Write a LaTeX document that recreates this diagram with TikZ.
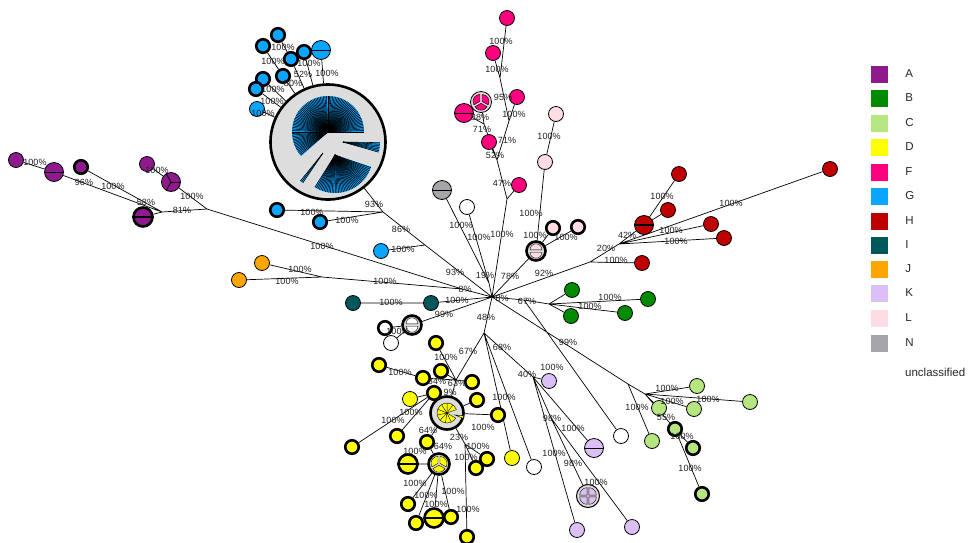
\documentclass[tikz,border=0pt]{standalone}
\usepackage{fontspec}
\setmainfont{Liberation Sans}
\usetikzlibrary{positioning}
\usetikzlibrary{backgrounds}

\definecolor{cA}{HTML}{8E1A8E}
\definecolor{cB}{HTML}{008B00}
\definecolor{cC}{HTML}{B5E680}
\definecolor{cD}{HTML}{FFFF00}
\definecolor{cF}{HTML}{FF007F}
\definecolor{cG}{HTML}{0AA5FF}
\definecolor{cH}{HTML}{BF0000}
\definecolor{cI}{HTML}{00585A}
\definecolor{cJ}{HTML}{FFA500}
\definecolor{cK}{HTML}{DCBFF5}
\definecolor{cL}{HTML}{FFDDE3}
\definecolor{cN}{HTML}{A5A6AA}
\definecolor{cbox}{HTML}{DDDDDD}

\newcommand{\pctfont}{\fontsize{9}{9}\selectfont}
% one piece of a split node: node, radius, start, end, colour
\newcommand{\slice}[5]{\filldraw[fill=#5,line width=0.4pt] ([shift={({(#3+#4)/2}:1.2pt)}]#1.center) -- ++(#3:#2) arc[start angle=#3,end angle=#4,radius=#2] -- cycle;}
% blue fan inside the big G node
\newcommand{\fan}[4]{%
  \fill[cG] (#1) -- ++(#2:#4) arc[start angle=#2,end angle=#3,radius=#4] -- cycle;
  \pgfmathsetmacro{\fannext}{#2+2.5}
  \foreach \a in {#2,\fannext,...,#3} \draw[line width=0.55pt] (#1) -- ++(\a:#4);}

\begin{document}
\begin{tikzpicture}[x=1pt,y=-1pt,
  leaf/.style={circle,draw,line width=0.8pt,minimum size=15pt,inner sep=0pt,fill=#1},
  leaf/.default=white,
  ring/.style={line width=2.6pt,minimum size=13.5pt},
  big/.style={minimum size=19pt},
  link/.style={line width=0.7pt},
  pct/.style={font=\pctfont,text=black!88,inner sep=0pt},
  legsq/.style={minimum size=17pt,inner sep=0pt},
  legtxt/.style={font=\fontsize{11.5}{12}\selectfont,text=black!85,inner sep=0pt}]
\useasboundingbox (0,0) rectangle (975,542);

% A
\node[leaf=cA]          (A1) at (16,160)  {};
\node[leaf=cA,big]      (A2) at (54,172)  {};
\node[leaf=cA,ring]     (A3) at (81,167)  {};
\node[leaf=cA]          (A4) at (147,164) {};
\node[leaf=cA,big]      (A5) at (171,182) {};
\node[leaf=cA,ring,big] (A6) at (143,217) {};
\draw[line width=0.8pt] (A2.west) -- (A2.east);
\draw[line width=2pt] (A6.west) -- (A6.east);
\foreach \a in {0,120,240} \draw[line width=0.8pt] (A5.center) -- (A5.\a);

% G
\node[leaf=cbox,ring,minimum size=115pt] (Gbig) at (328,142) {};
\coordinate (gfana) at (328,132);
\coordinate (gfanb) at (343,142);
\coordinate (gfanc) at (335,155);
\coordinate (gfand) at (323,153);
\fan{gfana}{0}{222}{36pt}
\fan{gfanb}{-16}{-1}{37pt}
\fan{gfanc}{-122}{-18}{38pt}
\fan{gfand}{231}{236}{36pt}
\node[leaf=cG,ring] (G1)  at (278,35)  {};
\node[leaf=cG,ring] (G2)  at (263,46)  {};
\node[leaf=cG,ring] (G3)  at (291,59)  {};
\node[leaf=cG,ring] (G4)  at (304,52)  {};
\node[leaf=cG,big]  (G5)  at (321,50)  {};
\node[leaf=cG,ring] (G6)  at (263,79)  {};
\node[leaf=cG,ring] (G7)  at (283,76)  {};
\node[leaf=cG,ring] (G8)  at (256,89)  {};
\node[leaf=cG]      (G9)  at (257,109) {};
\node[leaf=cG,ring] (G10) at (277,210) {};
\node[leaf=cG,ring] (G11) at (320,222) {};
\node[leaf=cG]      (G12) at (381,251) {};
\draw[line width=0.8pt] (G5.west) -- (G5.east);

% J, I, unclassified
\node[leaf=cJ] (J1) at (262,263) {};
\node[leaf=cJ] (J2) at (239,280) {};
\node[leaf=cI] (I1) at (353,303) {};
\node[leaf=cI] (I2) at (431,303) {};
\node[leaf,ring] (U1) at (385,328) {};
\node[leaf]      (U2) at (391,343) {};
\node[leaf=cbox,ring,big] (U3) at (412,325) {};
\slice{U3}{6pt}{0}{180}{white}
\slice{U3}{6pt}{180}{360}{white}
\node[leaf=cN,big] (N1) at (442,190) {};
\draw[line width=0.8pt] (N1.west) -- (N1.east);
\node[leaf] (W1) at (467,207) {};

% F
\node[leaf=cF] (F1) at (507,18)  {};
\node[leaf=cF] (F2) at (493,53)  {};
\node[leaf=cF] (F3) at (517,97)  {};
\node[leaf=cbox,minimum size=21pt] (F4) at (481,102) {};
\slice{F4}{7pt}{-30}{90}{cF}
\slice{F4}{7pt}{90}{210}{cF}
\slice{F4}{7pt}{210}{330}{cF}
\node[leaf=cF,big] (F5) at (464,113) {};
\draw[line width=0.8pt] (F5.west) -- (F5.east);
\node[leaf=cF] (F6) at (489,142) {};
\node[leaf=cF] (F7) at (519,185) {};

% L
\node[leaf=cL]      (L1) at (556,114) {};
\node[leaf=cL]      (L2) at (545,162) {};
\node[leaf=cL,ring] (L3) at (553,228) {};
\node[leaf=cL,ring] (L4) at (578,227) {};
\node[leaf=cbox,ring,big] (L5) at (536,251) {};
\slice{L5}{6pt}{0}{180}{cL}
\slice{L5}{6pt}{180}{360}{cL}

% H
\node[leaf=cH]     (H1) at (679,174) {};
\node[leaf=cH]     (H2) at (668,210) {};
\node[leaf=cH,big] (H3) at (644,225) {};
\draw[line width=1.2pt] (H3.west) -- (H3.east);
\node[leaf=cH]     (H4) at (711,224) {};
\node[leaf=cH]     (H5) at (724,238) {};
\node[leaf=cH]     (H6) at (830,169) {};
\node[leaf=cH]     (H7) at (642,263) {};

% B
\node[leaf=cB] (B1) at (572,290) {};
\node[leaf=cB] (B2) at (571,316) {};
\node[leaf=cB] (B3) at (648,299) {};
\node[leaf=cB] (B4) at (625,313) {};

% C
\node[leaf=cC]      (C1) at (652,441) {};
\node[leaf=cC]      (C2) at (697,386) {};
\node[leaf=cC]      (C3) at (750,402) {};
\node[leaf=cC]      (C4) at (694,409) {};
\node[leaf=cC]      (C5) at (659,408) {};
\node[leaf=cC,ring] (C6) at (675,429) {};
\node[leaf=cC,ring] (C7) at (693,448) {};
\node[leaf=cC,ring] (C8) at (702,494) {};

% K and white
\node[leaf=cK]     (K1) at (549,381) {};
\node[leaf=cK,big] (K2) at (594,448) {};
\draw[line width=0.8pt] (K2.west) -- (K2.east);
\node[leaf=cbox,line width=1pt,minimum size=23pt] (K3) at (588,496) {};
\foreach \s in {0,90,180,270} {\slice{K3}{7.5pt}{\s}{\s+90}{cK}}
\node[leaf=cK]     (K4) at (577,530) {};
\node[leaf=cK]     (K5) at (632,527) {};
\node[leaf] (W3) at (621,436) {};
\node[leaf] (W4) at (534,467) {};

% D
\node[leaf=cD,ring] (D1)  at (436,343) {};
\node[leaf=cD,ring] (D2)  at (379,365) {};
\node[leaf=cD,ring] (D3)  at (441,371) {};
\node[leaf=cD,ring] (D4)  at (423,378) {};
\node[leaf=cD,ring] (D5)  at (472,382) {};
\node[leaf=cD,ring] (D6)  at (434,393) {};
\node[leaf=cD]      (D7)  at (410,399) {};
\node[leaf=cbox,ring,minimum size=33pt] (D8) at (447,413) {};
\fill[cD] (D8.center) -- ++(20:10pt) arc[start angle=20,end angle=330,radius=10pt] -- cycle;
\foreach \a in {20,54.4,...,330} \draw[line width=0.4pt] (D8.center) -- ++(\a:10pt);
\draw[line width=0.4pt] (D8.center) ++(20:10pt) arc[start angle=20,end angle=330,radius=10pt];
\filldraw[fill=cD,line width=0.4pt] ([shift={(-14:8pt)}]D8.center) -- ++(-22:9pt) arc[start angle=-22,end angle=-6,radius=9pt] -- cycle;
\node[leaf=cD,ring] (D9)  at (477,400) {};
\node[leaf=cD,ring] (D10) at (498,415) {};
\node[leaf=cD,ring] (D11) at (397,436) {};
\node[leaf=cD,ring] (D12) at (352,447) {};
\node[leaf=cD,ring] (D13) at (427,442) {};
\node[leaf=cD,ring,big] (D14) at (408,464) {};
\draw[line width=2pt] (D14.west) -- (D14.east);
\node[leaf=cbox,ring,minimum size=21pt] (D15) at (439,464) {};
\slice{D15}{7pt}{90}{210}{cD}
\slice{D15}{7pt}{210}{330}{cD}
\slice{D15}{7pt}{330}{450}{cD}
\node[leaf=cD,ring] (D16) at (487,459) {};
\node[leaf=cD,ring] (D17) at (476,468) {};
\node[leaf=cD]      (D18) at (512,458) {};
\node[leaf=cD,ring] (D19) at (408,504) {};
\node[leaf=cD,ring] (D20) at (416,523) {};
\node[leaf=cD,ring,big] (D21) at (434,518) {};
\draw[line width=2pt] (D21.west) -- (D21.east);
\node[leaf=cD,ring] (D22) at (451,517) {};
\node[leaf=cD,ring] (D23) at (467,537) {};

% inner points of the tree
\coordinate (hub) at (492,297);
\coordinate (jA)  at (462,289);
\coordinate (jA1) at (162,212);
\coordinate (jA2) at (207,209);
\coordinate (jJ)  at (322,277);
\coordinate (jGb) at (383,212);
\coordinate (jG2) at (425,245);
\coordinate (j19) at (489,283);
\coordinate (jF)  at (507,199);
\coordinate (jF2) at (497,160);
\coordinate (jF3) at (509,121);
\coordinate (jF4) at (500,78);
\coordinate (jF5) at (484,124);
\coordinate (jH1) at (590,262);
\coordinate (jH2) at (619,244);
\coordinate (jB0) at (524,300);
\coordinate (jB)  at (549,304);
\coordinate (jC)  at (628,384);
\coordinate (jC2) at (645,394);
\coordinate (jD0) at (484,333);
\coordinate (jD1) at (456,380);
\coordinate (jD2) at (465,444);
\coordinate (jK)  at (533,377);
\coordinate (jK2) at (551,418);

\begin{scope}[on background layer]
\draw[link]
 (A1) -- (A2)  (A2) -- (jA1)  (A3) -- (jA1)  (A6) -- (jA1)  (jA1) -- (jA2)
 (jA2) -- (A5)  (A5) -- (A4)  (jA2) -- (jA)  (jA) -- (hub)
 (J1) -- (jJ)  (J2) -- (jJ)  (jJ) -- (jA)
 (I1) -- (I2)  (I2) -- (hub)
 (U1) -- (U3)  (U2) -- (U3)  (U3) -- (hub)
 (Gbig) -- (jGb)  (G10) -- (jGb)  (G11) -- (jGb)  (jGb) -- (jG2)  (G12) -- (jG2)  (jG2) -- (hub)
 (G1) -- (G3)  (G3) -- (Gbig)  (G4) -- (Gbig)  (G5) -- (Gbig)  (G2) -- (G7)  (G7) -- (Gbig)
 (G6) -- (Gbig)  (G8) -- (Gbig)  (G9) -- (Gbig)
 (N1) -- (j19)  (W1) -- (j19)  (j19) -- (hub)
 (hub) -- (jF)  (jF) -- (F7)  (jF) -- (jF2)  (jF2) -- (F6)  (jF2) -- (jF5)  (jF5) -- (F4)  (jF5) -- (F5)
 (jF2) -- (jF3)  (jF3) -- (F3)  (jF3) -- (jF4)  (jF4) -- (F2)  (jF4) -- (F1)
 (L1) -- (L2)  (L2) -- (L5)  (L3) -- (L5)  (L4) -- (L5)  (L5) -- (hub)
 (hub) -- (jH1)  (jH1) -- (H7)  (jH1) -- (jH2)  (jH2) -- (H3)  (H3) -- (H1)  (H3) -- (H2)
 (jH2) -- (H4)  (jH2) -- (H5)  (jH2) -- (H6)
 (hub) -- (jB0)  (jB0) -- (jB)  (jB) -- (B1)  (jB) -- (B2)  (jB) -- (B3)  (jB) -- (B4)  (jB0) -- (W3)
 (hub) -- (jC)  (jC) -- (C1)  (jC) -- (jC2)  (jC2) -- (C2)  (jC2) -- (C3)  (jC2) -- (C4)  (jC2) -- (C5)  (jC2) -- (C6)
 (C6) -- (C7)  (C6) -- (C8)
 (hub) -- (jD0)  (jD0) -- (jD1)  (jD0) -- (jK)  (jD0) -- (W4)  (jD0) -- (D18)
 (jD1) -- (D1)  (jD1) -- (D3)  (jD1) -- (D4)  (jD1) -- (D5)  (jD1) -- (D8)  (D4) -- (D2)
 (D8) -- (D6)  (D6) -- (D7)  (D6) -- (D12)  (D6) -- (D11)  (D8) -- (D9)  (D8) -- (D10)
 (D8) -- (D13)  (D13) -- (D15)  (D8) -- (jD2)  (jD2) -- (D16)  (jD2) -- (D17)  (jD2) -- (D23)
 (D15) -- (D14)  (D15) -- (D19)  (D15) -- (D20)  (D15) -- (D21)  (D15) -- (D22)
 (jK) -- (K1)  (jK) -- (K2)  (jK) -- (K4)  (jK) -- (jK2)  (jK2) -- (K5)  (jK2) -- (K3);
\end{scope}

% support values
\foreach \x/\y/\v [count=\i] in {35/162/100, 84/182/96, 113/186/100, 146/202/58, 182/210/81,
  157/170/100, 192/196/100, 322/246/100, 283/47/100, 273/61/100, 309/63/100, 303/74/52,
  327/73/100, 293/83/80, 273/89/100, 272/101/100, 263/113/100, 312/212/100, 347/220/100,
  374/204/93, 401/229/86, 403/249/100, 455/272/93, 300/269/100, 287/281/100, 385/281/100,
  465/289/8, 391/302/100, 457/300/100, 444/314/99, 398/331/100, 501/41/100, 497/69/100,
  503/97/95, 480/117/88, 514/114/100, 482/129/71, 507/140/71, 495/155/52, 502/183/47,
  502/234/100, 461/225/100, 479/237/100, 485/275/19, 549/136/100, 531/213/100, 535/235/100,
  566/237/100, 510/276/78, 544/273/92, 606/248/20, 616/260/100, 627/235/42, 662/196/100,
  671/230/100, 676/241/100, 731/203/100, 502/298/8, 527/301/67, 610/297/100, 590/306/100,
  486/317/48, 468/351/67, 502/347/68, 446/357/100, 400/372/100, 437/381/84, 457/383/63,
  450/392/9, 411/412/100, 504/397/100, 393/420/100, 483/427/100, 428/430/64, 459/437/23,
  478/446/100, 443/446/64, 415/451/100, 466/457/100, 415/483/100, 426/495/100, 453/491/100,
  436/504/100, 468/509/100, 527/374/40, 552/367/100, 552/418/98, 573/428/100, 554/453/100,
  573/463/98, 596/482/100, 568/342/99, 637/407/100, 667/388/100, 672/401/100, 708/399/100,
  666/417/55, 682/436/100, 690/468/100}
  \node[pct] (p\i) at (\x,\y) {\v\%};

% legend
\foreach \c/\y in {A/74, B/98, C/123, D/147, F/172, G/196, H/221, I/245, J/269, K/293, L/318, N/343} {
  \node[legsq,fill=c\c] (sq\c) at (879.5,\y) {};
  \node[legtxt,right=17pt of sq\c] (t\c) {\c};
}
\node[legtxt,anchor=west] (tU) at (905,372) {unclassified};
\end{tikzpicture}
\end{document}
